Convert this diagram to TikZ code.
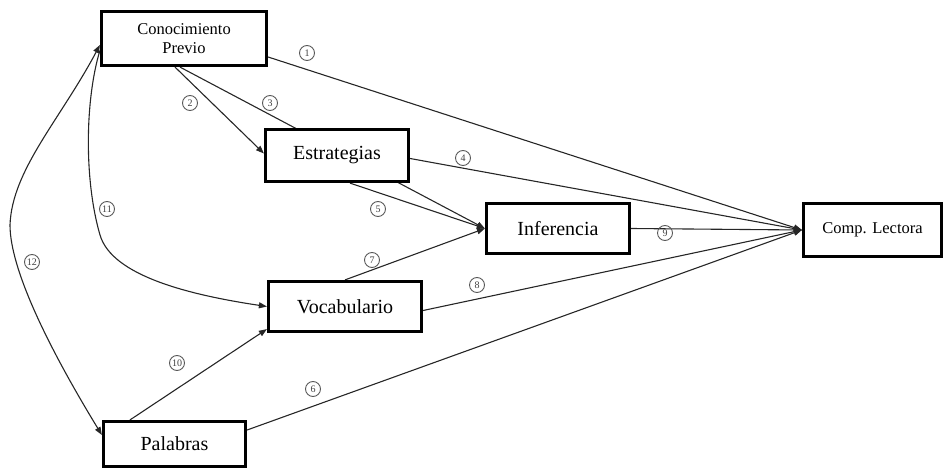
\documentclass[tikz,border=0pt]{standalone}
\usepackage{fontspec}
\setmainfont{Liberation Serif}
\usetikzlibrary{arrows.meta}
\pgfdeclarelayer{background}
\pgfsetlayers{background,main}

\tikzset{
  box/.style={draw=black, fill=white, line width=3.2pt, inner sep=2pt, align=center,
              font=\fontsize{20}{22}\selectfont},
  smallbox/.style={box, font=\fontsize{16.5}{18.5}\selectfont},
  link/.style={draw=black!85, line width=1.1pt},
  arr/.style={link, -{Triangle[length=8pt,width=6pt]}},
  darr/.style={link, {Triangle[length=8pt,width=6pt]}-{Triangle[length=8pt,width=6pt]}},
  num/.style={circle, draw=black!65, line width=0.9pt, inner sep=0pt, minimum size=15pt,
              text=black!75, font=\fontsize{10}{10}\selectfont}
}

\begin{document}
\begin{tikzpicture}[x=1pt, y=-1pt]
\useasboundingbox (0,0) rectangle (944,470);

% variables of the model
\node[smallbox, minimum width=165pt, minimum height=54pt] (cp)   at (184,38.5)  {Conocimiento\\Previo};
\node[box,      minimum width=143pt, minimum height=52pt] (est)  at (337,155.5) {Estrategias};
\node[box,      minimum width=143pt, minimum height=50pt] (inf)  at (558,228.5) {Inferencia};
\node[box,      minimum width=153pt, minimum height=50pt] (voc)  at (345,306.5) {Vocabulario};
\node[box,      minimum width=142pt, minimum height=45pt] (pal)  at (174.5,444) {Palabras};
\node[smallbox, minimum width=138pt, minimum height=53pt] (comp) at (872.5,230) {Comp. Lectora};

% paths between the variables
\begin{pgfonlayer}{background}
  \draw[arr] ([yshift=-18.5pt]cp.east) -- (comp.west);
  \draw[arr] ([xshift=-9pt]cp.south) -- ([yshift=2pt]est.west);
  \draw[arr] ([xshift=-4pt]cp.south) -- (inf.west);
  \draw[arr] ([yshift=-3pt]est.east) -- (comp.west);
  \draw[arr] ([xshift=13pt]est.south) -- (inf.west);
  \draw[arr] ([yshift=14pt]pal.east) -- (comp.west);
  \draw[arr] (voc.north) -- (inf.west);
  \draw[arr] ([yshift=-4pt]voc.east) -- (comp.west);
  \draw[arr] (inf.east) -- (comp.west);
  \draw[arr] ([xshift=-44.5pt]pal.north) -- ([yshift=4pt]voc.south west);
  \draw[arr] ([yshift=-12pt]cp.west) .. controls (85,100) and (84,180) .. (100,235)
             .. controls (112,276) and (190,295) .. (voc.west);
  \draw[darr] ([yshift=-6.5pt]cp.west) .. controls (60,120) and (12,170) .. (10,225)
              .. controls (10,270) and (50,350) .. ([yshift=9pt]pal.west);
\end{pgfonlayer}

% path numbers
\node[num] (n1)  at (307,53)  {1};
\node[num] (n2)  at (190,103) {2};
\node[num] (n3)  at (270,103) {3};
\node[num] (n4)  at (463,158) {4};
\node[num] (n5)  at (378,209) {5};
\node[num] (n6)  at (313,389) {6};
\node[num] (n7)  at (372,260) {7};
\node[num] (n8)  at (477,285) {8};
\node[num] (n9)  at (665,233) {9};
\node[num] (n10) at (177,363) {10};
\node[num] (n11) at (107,209) {11};
\node[num] (n12) at (32,262)  {12};
\end{tikzpicture}
\end{document}
